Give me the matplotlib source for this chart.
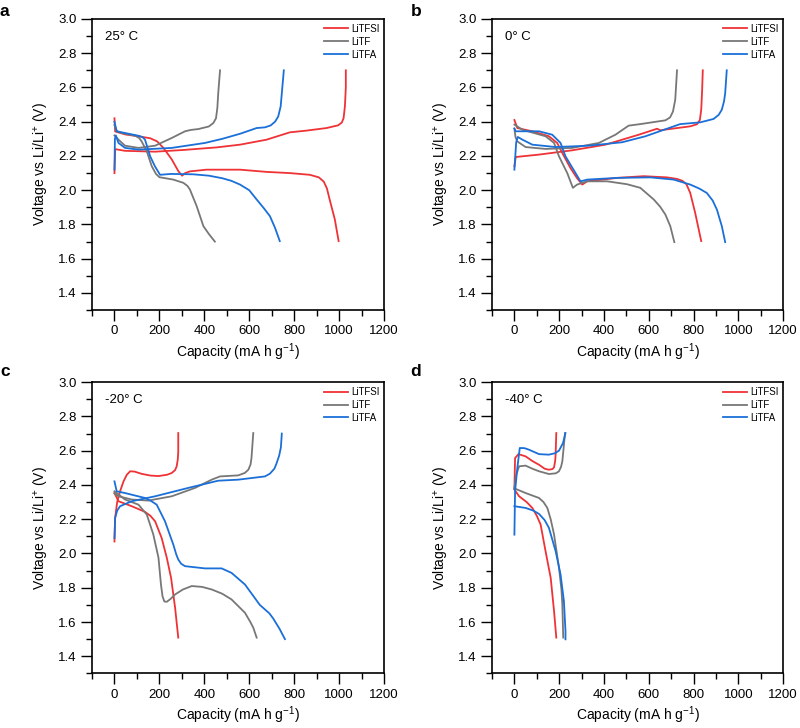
import numpy as np
import matplotlib.pyplot as plt

plt.rcParams['font.family'] = ['Liberation Sans', 'DejaVu Sans']
plt.rcParams['mathtext.fontset'] = 'custom'
plt.rcParams['mathtext.rm'] = 'Liberation Sans'
plt.rcParams['mathtext.it'] = 'Liberation Sans:italic'

SALTS = ["LiTFSI", "LiTF", "LiTFA"]
COLORS = ["#ef3236", "#777777", "#1a6fd8"]
TEMPS = ["25° C", "0° C", "-20° C", "-40° C"]
LETTERS = ["a", "b", "c", "d"]

# (capacity mA h/g, voltage V)
# panel a, 25 C
A_TFSI_DIS = [(0, 2.42), (3, 2.343), (50, 2.325), (107, 2.315), (160, 2.303), (190, 2.285), (218, 2.247),
              (255, 2.18), (285, 2.11), (301, 2.085), (315, 2.10), (336, 2.11), (410, 2.12), (559, 2.12),
              (677, 2.107), (781, 2.10), (870, 2.09), (910, 2.075), (932, 2.05), (946, 2.01), (958, 1.946),
              (981, 1.83), (998, 1.703)]
A_TFSI_CHG = [(0, 2.10), (3, 2.24), (47, 2.23), (181, 2.225), (307, 2.235), (455, 2.25), (559, 2.266),
              (677, 2.295), (781, 2.338), (855, 2.348), (944, 2.363), (996, 2.379), (1012, 2.395),
              (1020, 2.42), (1026, 2.49), (1030, 2.6), (1030, 2.70)]
A_TF_DIS = [(0, 2.38), (10, 2.345), (33, 2.334), (92, 2.318), (110, 2.305), (121, 2.285), (144, 2.227),
            (166, 2.14), (185, 2.095), (200, 2.076), (262, 2.062), (307, 2.043), (325, 2.025), (336, 2.004),
            (366, 1.907), (396, 1.79), (420, 1.745), (447, 1.70)]
A_TF_CHG = [(0, 2.32), (18, 2.295), (47, 2.26), (107, 2.247), (181, 2.26), (255, 2.305), (314, 2.344),
            (340, 2.352), (373, 2.357), (420, 2.372), (440, 2.392), (452, 2.42), (458, 2.48), (462, 2.567),
            (470, 2.70)]
A_TFA_DIS = [(0, 2.40), (10, 2.344), (47, 2.334), (107, 2.318), (125, 2.31), (136, 2.295), (159, 2.198),
             (180, 2.14), (203, 2.09), (250, 2.095), (350, 2.093), (420, 2.085), (480, 2.07), (520, 2.055),
             (559, 2.033), (600, 2.0), (633, 1.946), (665, 1.895), (692, 1.849), (715, 1.78), (736, 1.703)]
A_TFA_CHG = [(0, 2.12), (2, 2.30), (6, 2.32), (18, 2.276), (47, 2.247), (107, 2.237), (255, 2.247),
             (403, 2.276), (480, 2.30), (560, 2.33), (633, 2.363), (670, 2.367), (695, 2.378), (715, 2.40),
             (729, 2.43), (740, 2.49), (746, 2.58), (754, 2.70)]

# panel b, 0 C
B_TFSI_DIS = [(0, 2.41), (13, 2.363), (80, 2.344), (154, 2.315), (191, 2.276), (214, 2.217), (250, 2.13),
              (280, 2.07), (303, 2.033), (325, 2.052), (458, 2.072), (577, 2.082), (681, 2.075),
              (726, 2.066), (750, 2.055), (768, 2.035), (785, 1.984), (807, 1.868), (834, 1.703)]
B_TFSI_CHG = [(0, 2.14), (6, 2.194), (110, 2.208), (258, 2.233), (407, 2.266), (555, 2.324), (637, 2.359),
              (651, 2.35), (785, 2.373), (815, 2.385), (828, 2.41), (834, 2.47), (838, 2.58), (841, 2.70)]
B_TF_DIS = [(0, 2.383), (36, 2.353), (139, 2.315), (177, 2.276), (199, 2.198), (236, 2.10), (261, 2.014),
            (280, 2.033), (325, 2.052), (414, 2.052), (503, 2.035), (562, 2.014), (622, 1.946),
            (650, 1.905), (674, 1.858), (696, 1.79), (714, 1.697)]
B_TF_CHG = [(0, 2.36), (5, 2.31), (13, 2.285), (50, 2.252), (139, 2.241), (258, 2.247), (377, 2.276),
            (451, 2.324), (510, 2.377), (562, 2.386), (674, 2.408), (695, 2.425), (708, 2.46), (718, 2.528),
            (726, 2.70)]
B_TFA_DIS = [(0, 2.36), (6, 2.344), (110, 2.344), (169, 2.324), (206, 2.276), (228, 2.198), (295, 2.052),
             (325, 2.062), (458, 2.072), (607, 2.075), (711, 2.062), (785, 2.033), (825, 2.01), (859, 1.984),
             (885, 1.94), (904, 1.887), (926, 1.79), (941, 1.697)]
B_TFA_CHG = [(0, 2.12), (8, 2.28), (15, 2.311), (36, 2.295), (80, 2.266), (184, 2.252), (332, 2.26),
             (481, 2.28), (585, 2.315), (740, 2.386), (829, 2.396), (889, 2.416), (912, 2.44), (926, 2.47),
             (936, 2.52), (941, 2.567), (948, 2.70)]

# panel c, -20 C
C_TFSI_DIS = [(0, 2.353), (18, 2.305), (77, 2.276), (136, 2.243), (160, 2.22), (181, 2.188), (210, 2.091),
              (233, 1.975), (252, 1.858), (270, 1.683), (284, 1.509)]
C_TFSI_CHG = [(0, 2.07), (3, 2.208), (12, 2.30), (25, 2.363), (40, 2.42), (55, 2.46), (70, 2.48),
              (90, 2.478), (121, 2.465), (160, 2.455), (196, 2.452), (235, 2.46), (255, 2.47), (270, 2.487),
              (277, 2.509), (282, 2.55), (284, 2.596), (284, 2.703)]
C_TF_DIS = [(0, 2.363), (47, 2.315), (107, 2.285), (144, 2.227), (173, 2.111), (196, 1.975), (207, 1.819),
            (214, 1.75), (222, 1.72), (233, 1.718), (250, 1.735), (270, 1.761), (305, 1.79), (344, 1.81),
            (390, 1.805), (433, 1.79), (480, 1.765), (521, 1.732), (581, 1.654), (605, 1.60), (618, 1.567),
            (633, 1.509)]
C_TF_CHG = [(0, 2.35), (18, 2.334), (77, 2.315), (151, 2.309), (255, 2.334), (359, 2.383), (433, 2.431),
            (470, 2.45), (551, 2.456), (580, 2.47), (596, 2.489), (606, 2.52), (610, 2.557), (618, 2.703)]
C_TFA_DIS = [(0, 2.421), (10, 2.363), (47, 2.353), (136, 2.324), (165, 2.305), (188, 2.285), (225, 2.188),
             (262, 2.052), (275, 1.995), (284, 1.965), (297, 1.94), (314, 1.926), (403, 1.913), (477, 1.913),
             (521, 1.887), (581, 1.819), (647, 1.70), (690, 1.65), (707, 1.62), (735, 1.56), (759, 1.50)]
C_TFA_CHG = [(0, 2.09), (3, 2.208), (12, 2.25), (25, 2.276), (77, 2.305), (181, 2.334), (329, 2.383),
             (462, 2.425), (551, 2.431), (670, 2.45), (692, 2.466), (712, 2.495), (721, 2.524), (733, 2.57),
             (741, 2.62), (745, 2.70)]

# panel d, -40 C
D_TFSI_DIS = [(0, 2.373), (21, 2.334), (55, 2.30), (80, 2.266), (100, 2.22), (117, 2.169), (139, 2.014),
              (162, 1.858), (177, 1.664), (187, 1.509)]
D_TFSI_CHG = [(0, 2.38), (3, 2.557), (18, 2.58), (50, 2.567), (80, 2.54), (110, 2.518), (135, 2.495),
              (154, 2.489), (170, 2.493), (177, 2.503), (182, 2.54), (184, 2.577), (187, 2.703)]
D_TF_DIS = [(0, 2.38), (50, 2.353), (110, 2.324), (130, 2.30), (147, 2.266), (162, 2.20), (177, 2.111),
            (199, 1.917), (210, 1.79), (214, 1.703), (218, 1.509)]
D_TF_CHG = [(0, 2.38), (8, 2.46), (21, 2.509), (50, 2.513), (80, 2.495), (110, 2.48), (154, 2.464),
            (185, 2.468), (199, 2.48), (208, 2.505), (214, 2.538), (220, 2.62), (226, 2.703)]
D_TFA_DIS = [(0, 2.276), (50, 2.266), (85, 2.25), (110, 2.231), (135, 2.195), (154, 2.15), (184, 2.014),
             (206, 1.878), (221, 1.722), (228, 1.548), (228, 1.499)]
D_TFA_CHG = [(0, 2.11), (3, 2.363), (13, 2.499), (24, 2.616), (45, 2.615), (65, 2.606), (110, 2.58),
             (154, 2.577), (180, 2.585), (199, 2.60), (217, 2.645), (228, 2.703)]

PANEL_DATA = [
    [(A_TFSI_DIS, A_TFSI_CHG), (A_TF_DIS, A_TF_CHG), (A_TFA_DIS, A_TFA_CHG)],
    [(B_TFSI_DIS, B_TFSI_CHG), (B_TF_DIS, B_TF_CHG), (B_TFA_DIS, B_TFA_CHG)],
    [(C_TFSI_DIS, C_TFSI_CHG), (C_TF_DIS, C_TF_CHG), (C_TFA_DIS, C_TFA_CHG)],
    [(D_TFSI_DIS, D_TFSI_CHG), (D_TF_DIS, D_TF_CHG), (D_TFA_DIS, D_TFA_CHG)],
]

fig = plt.figure(figsize=(8, 7.28), dpi=100)
positions = [(0.115, 0.574, 0.365, 0.40), (0.615, 0.574, 0.364, 0.40),
             (0.115, 0.075, 0.365, 0.40), (0.615, 0.075, 0.364, 0.40)]
letter_pos = [(0.0, 0.978), (0.513, 0.978), (0.0, 0.484), (0.513, 0.484)]

for i, pos in enumerate(positions):
    ax = fig.add_axes(pos)
    for j, (dis, chg) in enumerate(PANEL_DATA[i]):
        d = np.array(dis)
        c = np.array(chg)
        ax.plot(d[:, 0], d[:, 1], color=COLORS[j], lw=1.3, label=SALTS[j])
        ax.plot(c[:, 0], c[:, 1], color=COLORS[j], lw=1.3)

    ax.set_xlim(-100, 1200)
    ax.set_ylim(1.3, 3.0)
    ax.set_xticks(range(0, 1201, 200))
    ax.set_xticks(range(-100, 1201, 100), minor=True)
    ax.set_yticks(np.round(np.arange(1.4, 3.01, 0.2), 1))
    ax.set_yticks(np.round(np.arange(1.3, 3.01, 0.1), 1), minor=True)
    ax.yaxis.set_major_formatter(plt.FormatStrFormatter('%.1f'))
    ax.tick_params(which='both', direction='out', top=False, right=False, labelsize=9.5, width=1.0, pad=3)
    ax.tick_params(which='major', length=8)
    ax.tick_params(which='minor', length=4)
    for sp in ax.spines.values():
        sp.set_linewidth(1.2)

    ax.set_xlabel("Capacity (mA h g$^{-1}$)", fontsize=10, labelpad=3)
    ax.set_ylabel("Voltage vs Li/Li$^{+}$ (V)", fontsize=10, labelpad=5)
    ax.text(0.045, 0.938, TEMPS[i], transform=ax.transAxes, fontsize=9.5, va='center', ha='left')
    ax.legend(loc='upper right', fontsize=7, frameon=False, handlelength=2.5, handletextpad=0.3,
              labelspacing=0.3, borderpad=0.3, borderaxespad=0.2)

    fig.text(letter_pos[i][0], letter_pos[i][1], LETTERS[i], fontsize=12.5, fontweight='bold', va='baseline')

fig.savefig("out.png", dpi=100)
